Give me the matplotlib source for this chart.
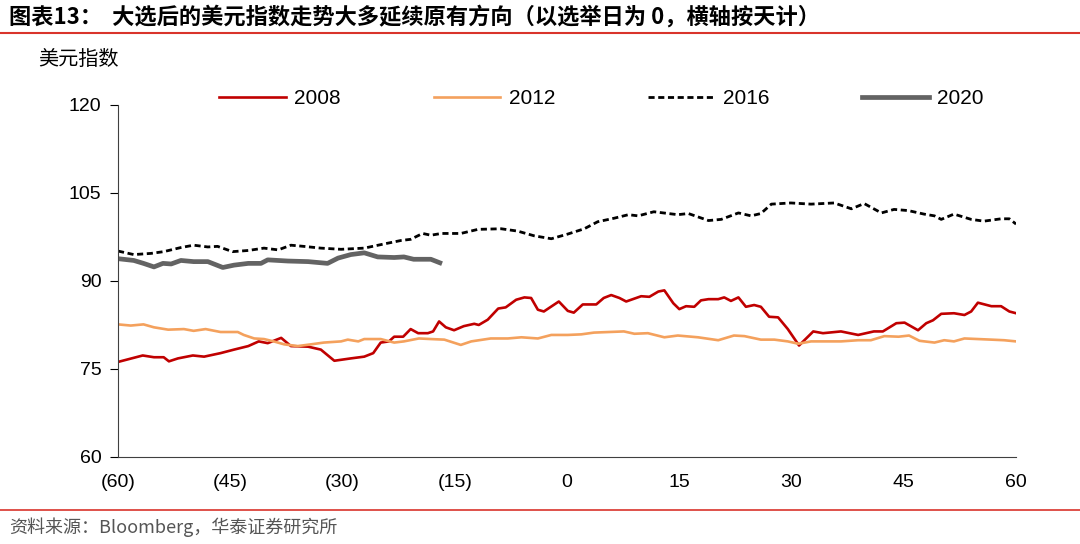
import matplotlib
matplotlib.use('Agg')
import matplotlib.pyplot as plt
from matplotlib.lines import Line2D

plt.rcParams['font.family'] = ['Liberation Sans', 'Noto Sans CJK SC']

# days relative to election day, and dollar index values
days_2008 = [-60, -56.7, -55.2, -53.9, -53.2, -52, -50, -48.5, -46.3, -44.5, -42.6, -41.2, -40,
             -38.2, -36.9, -34.6, -32.9, -31.1, -28.9, -27.1, -25.9, -24.9, -23.8, -23.1, -21.9,
             -20.9, -19.9, -18.6, -17.9, -17.1, -16.2, -15.1, -13.8, -12.4, -11.8, -10.6, -9.2,
             -8.2, -6.8, -5.7, -4.8, -3.9, -3.1, -1.1, 0.1, 0.9, 2.1, 3.9, 4.9, 5.9, 7.0, 7.9,
             9.9, 11, 12.2, 13, 14.2, 15, 15.9, 17, 17.9, 18.9, 20.2, 21, 21.9, 22.9, 23.9, 25,
             25.9, 27, 28.2, 29.5, 31, 32.9, 34.2, 36.6, 38.9, 41, 42.2, 44, 45.1, 46.9, 48, 48.9,
             50, 51.7, 53.1, 54, 54.9, 56.7, 58, 59.1, 60]
usd_2008 = [76.2, 77.3, 77.0, 77.0, 76.3, 76.8, 77.3, 77.1, 77.7, 78.3, 78.9, 79.7, 79.4,
            80.3, 78.9, 78.8, 78.3, 76.4, 76.8, 77.1, 77.7, 79.5, 79.7, 80.5, 80.5,
            81.8, 81.1, 81.1, 81.4, 83.1, 82.1, 81.6, 82.3, 82.7, 82.5, 83.4, 85.3,
            85.5, 86.8, 87.2, 87.1, 85.1, 84.8, 86.5, 84.9, 84.6, 86.0, 86.0, 87.1, 87.6, 87.1, 86.5,
            87.4, 87.3, 88.2, 88.4, 86.2, 85.2, 85.7, 85.6, 86.7, 86.9, 86.9, 87.2, 86.6, 87.2, 85.6, 85.9,
            85.6, 83.9, 83.8, 81.8, 79.0, 81.4, 81.1, 81.4, 80.8, 81.4, 81.4, 82.8, 82.9, 81.6, 82.8, 83.3,
            84.4, 84.5, 84.2, 84.8, 86.3, 85.7, 85.7, 84.8, 84.5]

days_2012 = [-60, -58.3, -56.6, -55.2, -53.3, -51.2, -49.9, -48.3, -46.3, -44, -43.2, -41.8, -40.5,
             -39.2, -37.8, -36, -34.2, -32.5, -30.2, -29.3, -27.9, -27.1, -24.9, -23.1, -21.8, -19.8,
             -18.2, -16.4, -14.2, -12.8, -10.2, -7.9, -6.1, -3.9, -2.1, 0.1, 1.9, 3.6, 7.6, 9, 10.8,
             13, 14.8, 17.5, 20.2, 22.3, 23.7, 25.9, 27.7, 29.5, 30.9, 32.6, 36.6, 38.9, 40.6, 42.4,
             44.3, 45.7, 47.1, 49.1, 50.4, 51.7, 53.1, 54.9, 56.7, 58.4, 60]
usd_2012 = [82.6, 82.4, 82.6, 82.1, 81.7, 81.8, 81.5, 81.8, 81.3, 81.3, 80.8, 80.2, 80.1,
            79.7, 79.2, 78.9, 79.2, 79.5, 79.7, 80.0, 79.7, 80.1, 80.1, 79.5, 79.7, 80.2,
            80.1, 80.0, 79.1, 79.7, 80.2, 80.2, 80.4, 80.2, 80.8, 80.8, 80.9, 81.2, 81.4, 81.0, 81.1,
            80.4, 80.7, 80.4, 79.9, 80.7, 80.6, 80.0, 80.0, 79.7, 79.3, 79.7, 79.7, 79.9, 79.9, 80.6,
            80.5, 80.7, 79.8, 79.5, 79.9, 79.7, 80.2, 80.1, 80.0, 79.9, 79.7]

days_2016 = [-60, -57.9, -55.6, -53.9, -51.6, -49.9, -48, -46.7, -44.7, -42.6, -40.5, -38.6, -36.9,
             -35.2, -32.9, -30.2, -27.1, -24.5, -22.2, -20.9, -19.3, -18.2, -16.8, -14.2, -11.9, -8.8,
             -6.6, -4.4, -2.1, 0.1, 2.3, 4.1, 6.3, 8.2, 9.5, 11.6, 14.8, 16.2, 18.9, 20.6, 22.9, 24.6,
             25.9, 27.3, 29.9, 32.6, 35.7, 38, 39.7, 42, 43.7, 45.6, 47.7, 49.1, 50, 51.7, 54, 55.7,
             58, 59.1, 60]
usd_2016 = [95.1, 94.5, 94.7, 95.0, 95.7, 96.1, 95.8, 95.9, 95.0, 95.2, 95.6, 95.3, 96.1,
            95.9, 95.6, 95.4, 95.6, 96.3, 96.9, 97.1, 98.1, 97.8, 98.1, 98.1, 98.8, 98.9,
            98.5, 97.7, 97.2, 98.0, 98.9, 100.1, 100.7, 101.3, 101.1, 101.8, 101.3, 101.5, 100.3, 100.5,
            101.6, 101.1, 101.5, 103.1, 103.3, 103.1, 103.3, 102.3, 103.2, 101.6, 102.2, 102.0, 101.4,
            101.1, 100.5, 101.4, 100.5, 100.2, 100.6, 100.6, 99.7]

days_2020 = [-60, -57.9, -56.6, -55.2, -54, -52.9, -51.6, -49.9, -48, -46, -44.5, -42.6, -40.9,
             -40, -37.3, -34.6, -32, -30.6, -28.9, -27.1, -25.3, -23.1, -21.8, -20.5, -18.2, -17]
usd_2020 = [93.8, 93.5, 93.0, 92.4, 93.0, 92.9, 93.5, 93.3, 93.3, 92.3, 92.7, 93.0, 93.0,
            93.6, 93.4, 93.3, 93.0, 93.9, 94.5, 94.8, 94.1, 94.0, 94.1, 93.7, 93.7, 93.1]

xticks = [-60, -45, -30, -15, 0, 15, 30, 45, 60]
xticklabels = ['(60)', '(45)', '(30)', '(15)', '0', '15', '30', '45', '60']
yticks = [60, 75, 90, 105, 120]


fig = plt.figure(figsize=(10.8, 5.44), dpi=100)
ax = fig.add_axes([0.1093, 0.16, 0.8315, 0.647])

ax.plot(days_2008, usd_2008, color='#C00000', lw=1.9, label='2008')
ax.plot(days_2012, usd_2012, color='#F4A15D', lw=1.9, label='2012')
ax.plot(days_2016, usd_2016, color='black', lw=2.0, ls=(0, (2.2, 1.3)), label='2016')
ax.plot(days_2020, usd_2020, color='#636363', lw=3.4, label='2020')

ax.set_xlim(-60, 60)
ax.set_ylim(60, 120)
ax.set_xticks(xticks)
ax.set_xticklabels(xticklabels)
ax.set_yticks(yticks)
ax.tick_params(axis='x', length=0, pad=12, labelsize=14)
ax.tick_params(axis='y', direction='out', length=6, pad=6, labelsize=14)
for s in ['top', 'right']:
    ax.spines[s].set_visible(False)
ax.spines['left'].set_color('#404040')
ax.spines['bottom'].set_color('#404040')

ax.legend(loc='upper left', bbox_to_anchor=(0.092, 1.098), ncol=4, frameon=False,
          fontsize=15, handlelength=3.2, handletextpad=0.4, columnspacing=4.45)

fig.text(0.008, 0.968, '图表13：  大选后的美元指数走势大多延续原有方向（以选举日为 0，横轴按天计）',
         fontsize=16, fontweight='bold', va='center', ha='left',
         family=['Noto Sans CJK SC', 'DejaVu Sans'])
fig.add_artist(Line2D([0, 1], [0.939, 0.939], color='#D9342B', lw=1.5))
fig.text(0.035, 0.89, '美元指数', fontsize=14.5, va='center', ha='left',
         family=['Noto Sans CJK SC', 'DejaVu Sans'])
fig.add_artist(Line2D([0, 1], [0.0625, 0.0625], color='#D9342B', lw=1.2))
fig.text(0.008, 0.03, '资料来源：Bloomberg，华泰证券研究所', fontsize=13, color='#555555',
         va='center', ha='left', family=['Noto Sans CJK SC', 'DejaVu Sans'])

fig.savefig('out.png', dpi=100)
